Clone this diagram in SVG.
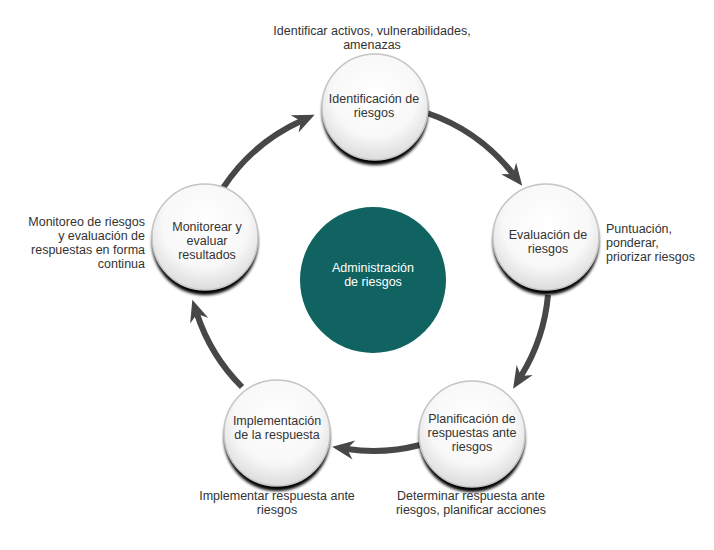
<svg xmlns="http://www.w3.org/2000/svg" width="714" height="550" viewBox="0 0 714 550">
  <style>
    .t { font-family: "Liberation Sans", Arial, sans-serif; font-size: 12.5px; fill: #333333; }
    .c { text-anchor: middle; }
    .r { text-anchor: end; }
    .w { fill: #ffffff; }
    .node { fill: url(#ng); stroke: #c4c4c4; stroke-width: 1.5; }
    .shadow { fill: #000000; filter: url(#sh); }
    .arrow { fill: none; stroke: #474747; stroke-width: 6; marker-end: url(#ah); }
  </style>
  <defs>
    <radialGradient id="ng" cx="50%" cy="38%" r="62%">
      <stop offset="0" stop-color="#ffffff"/>
      <stop offset="0.65" stop-color="#f8f8f8"/>
      <stop offset="1" stop-color="#dcdcdc"/>
    </radialGradient>
    <filter id="sh" x="-20%" y="-20%" width="140%" height="140%">
      <feGaussianBlur stdDeviation="1.5"/>
    </filter>
    <marker id="ah" markerUnits="userSpaceOnUse" markerWidth="24" markerHeight="20" viewBox="-8 -10 24 20" refX="0" refY="0" orient="auto">
      <path d="M15,0 L-7,-9.5 L0,0 L-7,9.5 Z" fill="#474747"/>
    </marker>
  </defs>
  <rect width="714" height="550" fill="#ffffff"/>

  <g id="connectors">
    <path class="arrow" d="M427,113 A185,185 0 0 1 513,174"/>
    <path class="arrow" d="M548,295 A185,185 0 0 1 521,376"/>
    <path class="arrow" d="M420,445 A185,185 0 0 1 347,449"/>
    <path class="arrow" d="M242,387 A185,185 0 0 1 197,314"/>
    <path class="arrow" d="M223,188 A185,185 0 0 1 301,121"/>
  </g>

  <g id="center">
    <circle cx="373" cy="280" r="73" fill="#106361"/>
    <text class="t c w" x="373" y="271.5">Administración<tspan x="373" dy="14">de riesgos</tspan></text>
  </g>

  <g id="identificacion">
    <circle class="shadow" cx="375" cy="112" r="53"/>
    <circle class="node" cx="375" cy="107" r="53"/>
    <text class="t c" x="374" y="102.5">Identificación de<tspan x="374" dy="14">riesgos</tspan></text>
    <text class="t c" x="372" y="34.5">Identificar activos, vulnerabilidades,<tspan x="372" dy="14">amenazas</tspan></text>
  </g>

  <g id="evaluacion">
    <circle class="shadow" cx="546" cy="242" r="53"/>
    <circle class="node" cx="546" cy="237" r="53"/>
    <text class="t c" x="548" y="238.5">Evaluación de<tspan x="548" dy="14">riesgos</tspan></text>
    <text class="t" x="606" y="233">Puntuación,<tspan x="606" dy="14">ponderar,</tspan><tspan x="606" dy="14">priorizar riesgos</tspan></text>
  </g>

  <g id="planificacion">
    <circle class="shadow" cx="472" cy="439" r="53"/>
    <circle class="node" cx="472" cy="434" r="53"/>
    <text class="t c" x="472" y="423">Planificación de<tspan x="472" dy="14">respuestas ante</tspan><tspan x="472" dy="14">riesgos</tspan></text>
    <text class="t c" x="471" y="500">Determinar respuesta ante<tspan x="471" dy="14">riesgos, planificar acciones</tspan></text>
  </g>

  <g id="implementacion">
    <circle class="shadow" cx="277" cy="438" r="53"/>
    <circle class="node" cx="277" cy="433" r="53"/>
    <text class="t c" x="277" y="425">Implementación<tspan x="277" dy="14">de la respuesta</tspan></text>
    <text class="t c" x="277" y="500">Implementar respuesta ante<tspan x="277" dy="14">riesgos</tspan></text>
  </g>

  <g id="monitorear">
    <circle class="shadow" cx="205" cy="242" r="53"/>
    <circle class="node" cx="205" cy="237" r="53"/>
    <text class="t c" x="207" y="231">Monitorear y<tspan x="207" dy="14">evaluar</tspan><tspan x="207" dy="14">resultados</tspan></text>
    <text class="t r" x="145" y="225.5">Monitoreo de riesgos<tspan x="145" dy="14">y evaluación de</tspan><tspan x="145" dy="14">respuestas en forma</tspan><tspan x="145" dy="14">continua</tspan></text>
  </g>
</svg>
